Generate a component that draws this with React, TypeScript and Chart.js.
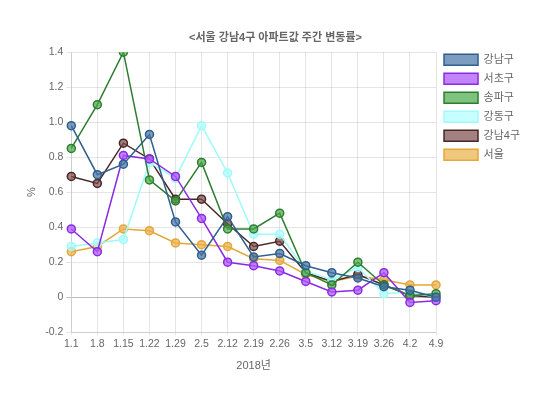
import React, { useEffect, useRef } from "react";
import { Chart, registerables } from "chart.js";

Chart.register(...registerables);

const categories = ["1.1", "1.8", "1.15", "1.22", "1.29", "2.5", "2.12", "2.19", "2.26", "3.5", "3.12", "3.19", "3.26", "4.2", "4.9"];

const gangnam = [0.98, 0.70, 0.76, 0.93, 0.43, 0.24, 0.46, 0.23, 0.25, 0.18, 0.14, 0.11, 0.06, 0.04, 0.0];
const seocho = [0.39, 0.26, 0.81, 0.79, 0.69, 0.45, 0.20, 0.18, 0.15, 0.09, 0.03, 0.04, 0.14, -0.03, -0.02];
const songpa = [0.85, 1.10, 1.40, 0.67, 0.55, 0.77, 0.39, 0.39, 0.48, 0.14, 0.07, 0.20, 0.07, 0.01, 0.02];
const gangdong = [0.29, 0.31, 0.33, 0.77, 0.68, 0.98, 0.71, 0.36, 0.36, 0.15, 0.10, 0.17, 0.02, 0.03, 0.0];
const gangnam4 = [0.69, 0.65, 0.88, 0.79, 0.56, 0.56, 0.42, 0.29, 0.32, 0.14, 0.09, 0.13, 0.07, 0.01, 0.0];
const seoul = [0.26, 0.29, 0.39, 0.38, 0.31, 0.30, 0.29, 0.22, 0.21, 0.13, 0.09, 0.12, 0.10, 0.07, 0.07];

const yTicks = [-0.2, 0, 0.2, 0.4, 0.6, 0.8, 1.0, 1.2, 1.4];

const FONT = "'Liberation Sans', Arial, 'Noto Sans CJK KR', sans-serif";

function ds(label: string, data: number[], line: string, fill: string) {
  return {
    label,
    data,
    borderColor: line,
    backgroundColor: fill,
    pointBackgroundColor: fill,
    pointBorderColor: line,
    borderWidth: 1.5,
    pointRadius: 4,
    pointBorderWidth: 1.5,
    tension: 0,
    fill: false,
  };
}

export default function App() {
  const ref = useRef<HTMLCanvasElement | null>(null);
  useEffect(() => {
    if (!ref.current) return;
    const chart = new Chart(ref.current, {
      type: "line",
      data: {
        labels: categories,
        datasets: [
          ds("강남구", gangnam, "#2f5f8c", "rgba(70,115,165,0.7)"),
          ds("서초구", seocho, "#8a2be2", "rgba(175,90,250,0.75)"),
          ds("송파구", songpa, "#2e7d32", "rgba(70,170,70,0.7)"),
          ds("강동구", gangdong, "rgba(160,250,250,1)", "rgba(175,255,255,0.7)"),
          ds("강남4구", gangnam4, "#4a2626", "rgba(125,75,75,0.7)"),
          ds("서울", seoul, "#e3a73a", "rgba(235,175,70,0.7)"),
        ],
      },
      options: {
        animation: false,
        responsive: true,
        maintainAspectRatio: false,
        layout: { padding: { top: 23, right: 12, bottom: 14, left: 13 } },
        plugins: {
          title: {
            display: true,
            text: "<서울 강남4구 아파트값 주간 변동률>",
            color: "#666",
            font: { family: FONT, size: 11, weight: "bold" },
            padding: { top: 0, bottom: 8 },
          },
          legend: {
            position: "right",
            align: "start",
            title: { display: true, text: "", font: { size: 1 }, padding: { top: 0, bottom: 14 } },
            labels: {
              color: "#666",
              boxWidth: 34,
              boxHeight: 11,
              padding: 8,
              font: { family: FONT, size: 11 },
              generateLabels: (c: any) =>
                c.data.datasets.map((d: any, i: number) => ({
                  text: d.label,
                  fillStyle: d.backgroundColor,
                  strokeStyle: d.borderColor,
                  lineWidth: 1.5,
                  hidden: false,
                  datasetIndex: i,
                  fontColor: "#666",
                })),
            },
          },
          tooltip: { enabled: false },
        },
        scales: {
          x: {
            title: { display: true, text: "2018년", color: "#666", font: { family: FONT, size: 11 }, padding: { top: 6, bottom: 0 } },
            ticks: { color: "#666", font: { family: FONT, size: 10.5 }, maxRotation: 0, autoSkip: false, padding: 3 },
            grid: { color: "rgba(0,0,0,0.1)", tickLength: 3 },
          },
          y: {
            min: -0.2,
            max: 1.4,
            afterBuildTicks: (axis: any) => {
              axis.ticks = yTicks.map((v) => ({ value: v }));
            },
            title: { display: true, text: "%", color: "#666", font: { family: FONT, size: 11 } },
            ticks: {
              color: "#666",
              font: { family: FONT, size: 10.5 },
              padding: 3,
              callback: (v: any) => (Number(v) === 0 ? "0" : Number(v).toFixed(1)),
            },
            grid: {
              tickLength: 5,
              color: (ctx: any) => (ctx.tick && ctx.tick.value === 0 ? "rgba(0,0,0,0.25)" : "rgba(0,0,0,0.1)"),
            },
          },
        },
      },
    });
    return () => chart.destroy();
  }, []);
  return (
    <div style={{ width: 534, height: 379 }}>
      <canvas ref={ref} />
    </div>
  );
}
